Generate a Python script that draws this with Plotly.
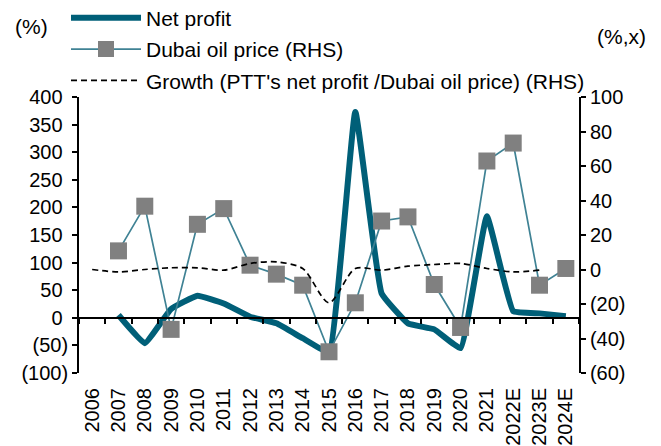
import plotly.graph_objects as go

years = ["2006", "2007", "2008", "2009", "2010", "2011", "2012", "2013", "2014", "2015",
         "2016", "2017", "2018", "2019", "2020", "2021", "2022E", "2023E", "2024E"]
net_profit = [None, 5, -46, 16, 40, 26, 2, -10, -37, -62,
              373, 44, -10, -21, -55, 184, 12, 8, 3]
dubai_oil = [None, 10.8, 36.7, -34.7, 26.2, 35.3, 2.5, -2.7, -9.1, -47.7,
             -19.3, 28.1, 30.5, -8.7, -33.6, 62.9, 73.3, -9.1, 0.6]
growth = [0, -1.4, 0, 1, 1, -0.4, 3.5, 4.4, 0.6, -19.3,
          0.6, -0.4, 1.9, 2.9, 3.5, 0.6, -1.4, -0.4, None]

left_ticks = [-100, -50, 0, 50, 100, 150, 200, 250, 300, 350, 400]
right_ticks = [-60, -40, -20, 0, 20, 40, 60, 80, 100]


def acct(v, pad=False):
    if v < 0:
        return "(%d)" % abs(v)
    return ("%d" % v) + ("\u00a0" if pad else "")


xi = list(range(len(years)))
FONT = "Liberation Sans, Arial, sans-serif"

fig = go.Figure()
fig.add_trace(go.Scatter(
    x=xi, y=net_profit, name="Net profit", mode="lines",
    line=dict(color="#005f78", width=6, shape="spline", smoothing=0.3),
    legendgroup="a", yaxis="y"))
fig.add_trace(go.Scatter(
    x=xi, y=dubai_oil, name="Dubai oil price (RHS)", mode="lines+markers",
    line=dict(color="#3f8294", width=1.7),
    marker=dict(symbol="square", size=17, color="#808080"),
    legendgroup="b", yaxis="y2"))
fig.add_trace(go.Scatter(
    x=xi, y=growth, name="Growth (PTT's net profit /Dubai oil price) (RHS)", mode="lines",
    line=dict(color="#000000", width=1.7, dash="6px,4px", shape="spline", smoothing=0.8),
    legendgroup="c", yaxis="y2"))

# page body has an 8px default margin, so the figure is offset by 8px
fig.update_layout(
    width=653, height=438,
    margin=dict(l=71, r=82, t=89, b=73, autoexpand=False),
    paper_bgcolor="white", plot_bgcolor="white",
    font=dict(family=FONT, size=21, color="#000000"),
    showlegend=True,
    legend=dict(x=-0.026, y=1.36, xanchor="left", yanchor="top",
                bgcolor="rgba(0,0,0,0)", tracegroupgap=1, itemwidth=70,
                traceorder="grouped", font=dict(size=21)),
    xaxis=dict(range=[-0.5, 18.5], tickmode="array", tickvals=xi, ticktext=years,
               tickangle=-90, ticks="", showline=False, showgrid=False, zeroline=False,
               ticklabelstandoff=10, tickfont=dict(size=20)),
    xaxis2=dict(range=[-0.5, 18.5], overlaying="x", anchor="free", position=0.2,
                tickmode="array", tickvals=[i - 0.5 for i in range(len(years) + 1)],
                showticklabels=False, ticks="outside", ticklen=5, tickwidth=1.5,
                tickcolor="#000", showline=True, linecolor="#000", linewidth=1.8,
                showgrid=False, zeroline=False),
    yaxis=dict(range=[-100, 400], tickmode="array", tickvals=left_ticks,
               ticktext=[acct(v, True) for v in left_ticks],
               showline=True, linecolor="#000", linewidth=1.8, ticks="outside",
               ticklen=5, tickwidth=1.5, tickcolor="#000", showgrid=False,
               zeroline=False, tickfont=dict(size=20)),
    yaxis2=dict(range=[-60, 100], overlaying="y", side="right", tickmode="array",
                tickvals=right_ticks, ticktext=[acct(v) for v in right_ticks],
                showline=True, linecolor="#000", linewidth=1.8, ticks="outside",
                ticklen=5, tickwidth=1.5, tickcolor="#000", showgrid=False,
                zeroline=False, tickfont=dict(size=20)),
    annotations=[
        dict(text="(%)", xref="paper", yref="paper", x=-0.096, y=1.256,
             xanchor="center", yanchor="middle", showarrow=False, font=dict(size=21)),
        dict(text="(%,x)", xref="paper", yref="paper", x=1.085, y=1.22,
             xanchor="center", yanchor="middle", showarrow=False, font=dict(size=21)),
    ],
)

# invisible trace to activate xaxis2
fig.add_trace(go.Scatter(x=[None], y=[None], xaxis="x2", showlegend=False, hoverinfo="skip"))

fig.write_html("out.html")
